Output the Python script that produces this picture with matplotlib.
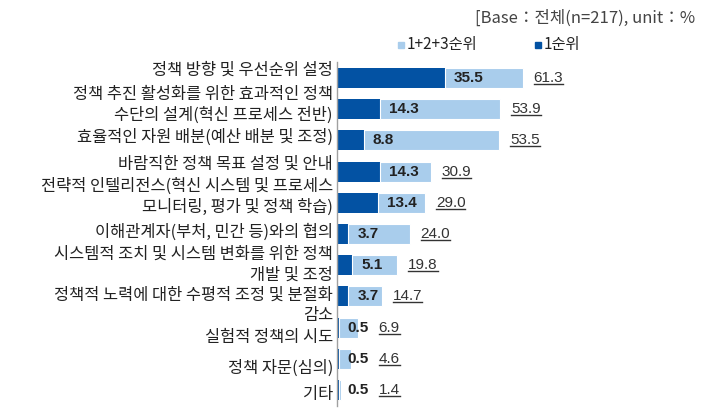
import matplotlib
matplotlib.use("Agg")
import matplotlib.pyplot as plt
from matplotlib.patches import Rectangle
from matplotlib.lines import Line2D

KR = ["Noto Sans CJK KR", "DejaVu Sans"]
NUM = ["Liberation Sans", "Noto Sans CJK KR"]

DARK = "#0352a3"
LIGHT = "#a9cdec"
TXT = "#222222"

categories = [
    "정책 방향 및 우선순위 설정",
    "정책 추진 활성화를 위한 효과적인 정책\n수단의 설계(혁신 프로세스 전반)",
    "효율적인 자원 배분(예산 배분 및 조정)",
    "바람직한 정책 목표 설정 및 안내",
    "전략적 인텔리전스(혁신 시스템 및 프로세스\n모니터링, 평가 및 정책 학습)",
    "이해관계자(부처, 민간 등)와의 협의",
    "시스템적 조치 및 시스템 변화를 위한 정책\n개발 및 조정",
    "정책적 노력에 대한 수평적 조정 및 분절화\n감소",
    "실험적 정책의 시도",
    "정책 자문(심의)",
    "기타",
]
first_rank = [35.5, 14.3, 8.8, 14.3, 13.4, 3.7, 5.1, 3.7, 0.5, 0.5, 0.5]
top3_total = [61.3, 53.9, 53.5, 30.9, 29.0, 24.0, 19.8, 14.7, 6.9, 4.6, 1.4]
legend_labels = ["1+2+3순위", "1순위"]
header = "[Base：전체(n=217), unit：%"

# vertical nudge (pixels) of each category label relative to its bar
label_shift = [8, 4, 3, 7, 6, 2, 0, -9, -10, -9, -4]

W, H = 709, 411
fig = plt.figure(figsize=(W / 100, H / 100), dpi=100)
fig.patch.set_facecolor("white")

XMAX = 120
ax = fig.add_axes([337 / W, (H - 405.6) / H, (700.6 - 337) / W, 343.2 / H])
n = len(categories)
ys = list(range(n))
rest = [t - f for t, f in zip(top3_total, first_rank)]
ax.barh(ys, first_rank, height=0.64, color=DARK, linewidth=0)
ax.barh(ys, rest, left=first_rank, height=0.64, color=LIGHT,
        edgecolor="white", linewidth=0.8)
ax.set_xlim(0, XMAX)
ax.set_ylim(n - 0.5, -0.5)
ax.set_xticks([]); ax.set_yticks([])
for s in ("top", "right", "bottom"):
    ax.spines[s].set_visible(False)
ax.spines["left"].set_color("#a0a0a0")
ax.spines["left"].set_linewidth(1.0)

px = (700.6 - 337) / XMAX  # pixels per unit

for y, lab, dy in zip(ys, categories, label_shift):
    ax.annotate(lab, xy=(0, y), xycoords=("axes fraction", "data"),
                xytext=(-4, dy), textcoords="offset pixels",
                ha="right", va="center", fontsize=11.8, family=KR,
                color=TXT, linespacing=1.3)

totals_txt = []
for y, f, t in zip(ys, first_rank, top3_total):
    ax.annotate(f"{f:.1f}", xy=(0, y), xycoords=("data", "data"),
                xytext=(f * px + 9, 0), textcoords="offset pixels",
                ha="left", va="center", fontsize=11, family=NUM,
                fontweight="bold", color=TXT)
    xoff = max(t * px + 11, f * px + 40)
    tt = ax.annotate(f"{t:.1f}", xy=(0, y), xycoords=("data", "data"),
                     xytext=(xoff, 0), textcoords="offset pixels",
                     ha="left", va="center", fontsize=11, family=NUM,
                     color="#333333")
    totals_txt.append(tt)

# header and legend
fig.text(695 / W, 1 - 18 / H, header, ha="right", va="center",
         fontsize=12, family=KR, color="#444444")
for (lx, col), lab in zip([(398, LIGHT), (535, DARK)], legend_labels):
    fig.patches.append(Rectangle((lx / W, 1 - 48 / H), 6 / W, 6 / H,
                                 transform=fig.transFigure, color=col))
    fig.text((lx + 9) / W, 1 - 45 / H, lab, ha="left", va="center",
             fontsize=11, family=KR, color=TXT)

# underline totals
fig.canvas.draw()
r = fig.canvas.get_renderer()
for tt in totals_txt:
    bb = tt.get_window_extent(r)
    yline = bb.y0 + 1
    fig.lines.append(Line2D([bb.x0 / W, bb.x1 / W], [yline / H, yline / H],
                            transform=fig.transFigure, color="#333333",
                            linewidth=1.0))

fig.savefig("out.png", dpi=100, facecolor="white")
